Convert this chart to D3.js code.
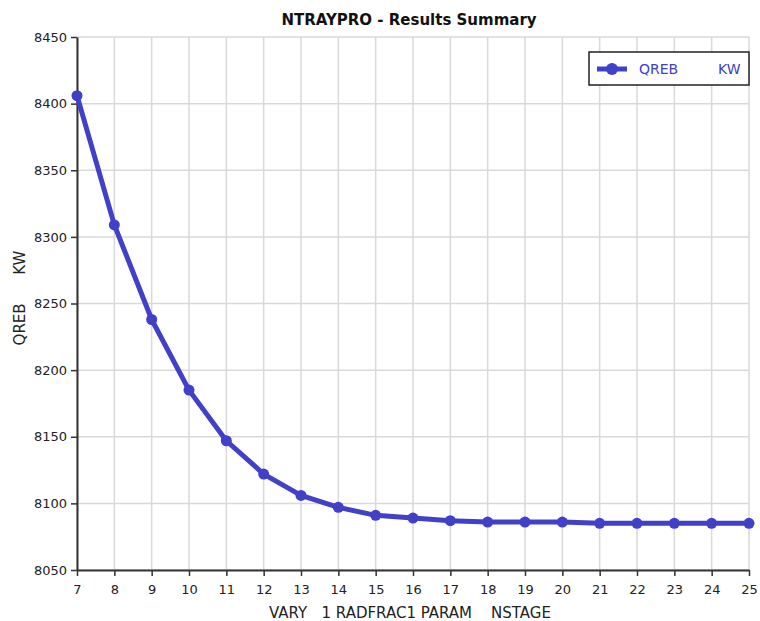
<!DOCTYPE html>
<html>
<head>
<meta charset="utf-8">
<script src="https://cdn.jsdelivr.net/npm/d3@7"></script>
<style>
  body { margin: 0; background: #fff; }
  text { font-family: "DejaVu Sans", Verdana, sans-serif; }
</style>
</head>
<body>
<div id="chart"></div>
<script>
var stages = [7, 8, 9, 10, 11, 12, 13, 14, 15, 16, 17, 18, 19, 20, 21, 22, 23, 24, 25];
var qreb = [8406, 8309, 8238, 8185, 8147, 8122, 8106, 8097, 8091, 8089, 8087, 8086, 8086, 8086, 8085, 8085, 8085, 8085, 8085];
var yTicks = [8050, 8100, 8150, 8200, 8250, 8300, 8350, 8400, 8450];

var margin = {top: 37, right: 11, bottom: 51, left: 77},
    width = 760 - margin.left - margin.right,
    height = 621 - margin.top - margin.bottom;

var blue = "#4040c8";

var svg = d3.select("#chart")
  .append("svg")
    .attr("width", 760)
    .attr("height", 621)
  .append("g")
    .attr("transform", "translate(" + margin.left + "," + margin.top + ")");

var x = d3.scaleLinear().domain([7, 25]).range([0, width]);
var y = d3.scaleLinear().domain([8050, 8450]).range([height, 0]);

// grid
svg.append("g").selectAll("line")
  .data(stages).enter().append("line")
    .attr("x1", function(d) { return x(d); })
    .attr("x2", function(d) { return x(d); })
    .attr("y1", 0).attr("y2", height)
    .attr("stroke", "#d9d9d9").attr("stroke-width", 1.5);
svg.append("g").selectAll("line")
  .data(yTicks).enter().append("line")
    .attr("x1", 0).attr("x2", width)
    .attr("y1", function(d) { return y(d); })
    .attr("y2", function(d) { return y(d); })
    .attr("stroke", "#d9d9d9").attr("stroke-width", 1.5);

// axes
var xAxis = svg.append("g")
  .attr("transform", "translate(0," + height + ")")
  .call(d3.axisBottom(x).tickValues(stages).tickFormat(d3.format("d")).tickSize(6).tickSizeOuter(0));
var yAxis = svg.append("g")
  .call(d3.axisLeft(y).tickValues(yTicks).tickFormat(d3.format("d")).tickSize(6).tickSizeOuter(0));

[xAxis, yAxis].forEach(function(a) {
  a.select(".domain").attr("stroke", "#333").attr("stroke-width", 2);
  a.selectAll(".tick line").attr("stroke", "#333").attr("stroke-width", 1.5);
  a.selectAll(".tick text").attr("fill", "#222").style("font-size", "13px")
    .style("font-family", "'DejaVu Sans', sans-serif");
});
xAxis.selectAll(".tick text").attr("dy", "1.15em");
yAxis.selectAll(".tick text").attr("x", -10);

// line
var line = d3.line()
  .x(function(d, i) { return x(stages[i]); })
  .y(function(d) { return y(d); });

svg.append("path")
  .datum(qreb)
  .attr("fill", "none")
  .attr("stroke", blue)
  .attr("stroke-width", 5)
  .attr("stroke-linejoin", "round")
  .attr("d", line);

svg.selectAll(".dot")
  .data(qreb).enter().append("circle")
    .attr("class", "dot")
    .attr("cx", function(d, i) { return x(stages[i]); })
    .attr("cy", function(d) { return y(d); })
    .attr("r", 5.5)
    .attr("fill", blue);

// title
svg.append("text")
  .attr("x", 409 - margin.left)
  .attr("y", -12)
  .attr("text-anchor", "middle")
  .style("font-size", "15px")
  .style("font-weight", "bold")
  .attr("fill", "#111")
  .text("NTRAYPRO - Results Summary");

// x label
svg.append("text")
  .attr("x", 410 - margin.left)
  .attr("y", height + 48)
  .attr("text-anchor", "middle")
  .style("font-size", "15px")
  .attr("fill", "#222")
  .attr("xml:space", "preserve")
  .text("VARY   1 RADFRAC1 PARAM    NSTAGE");

// y label
svg.append("text")
  .attr("transform", "translate(-52," + (298 - margin.top) + ") rotate(-90)")
  .attr("text-anchor", "middle")
  .style("font-size", "15px")
  .attr("fill", "#222")
  .attr("xml:space", "preserve")
  .text("QREB      KW");

// legend
var lg = svg.append("g").attr("transform", "translate(" + (589 - margin.left) + "," + (52 - margin.top) + ")");
lg.append("rect")
  .attr("width", 160).attr("height", 33)
  .attr("fill", "#fff").attr("stroke", "#222").attr("stroke-width", 1.5);
lg.append("line")
  .attr("x1", 8).attr("x2", 38).attr("y1", 17).attr("y2", 17)
  .attr("stroke", blue).attr("stroke-width", 5);
lg.append("circle")
  .attr("cx", 23).attr("cy", 17).attr("r", 6).attr("fill", blue);
lg.append("text")
  .attr("x", 50).attr("y", 22)
  .style("font-size", "14px").attr("fill", blue)
  .text("QREB");
lg.append("text")
  .attr("x", 129).attr("y", 22)
  .style("font-size", "14px").attr("fill", blue)
  .text("KW");
</script>
</body>
</html>
